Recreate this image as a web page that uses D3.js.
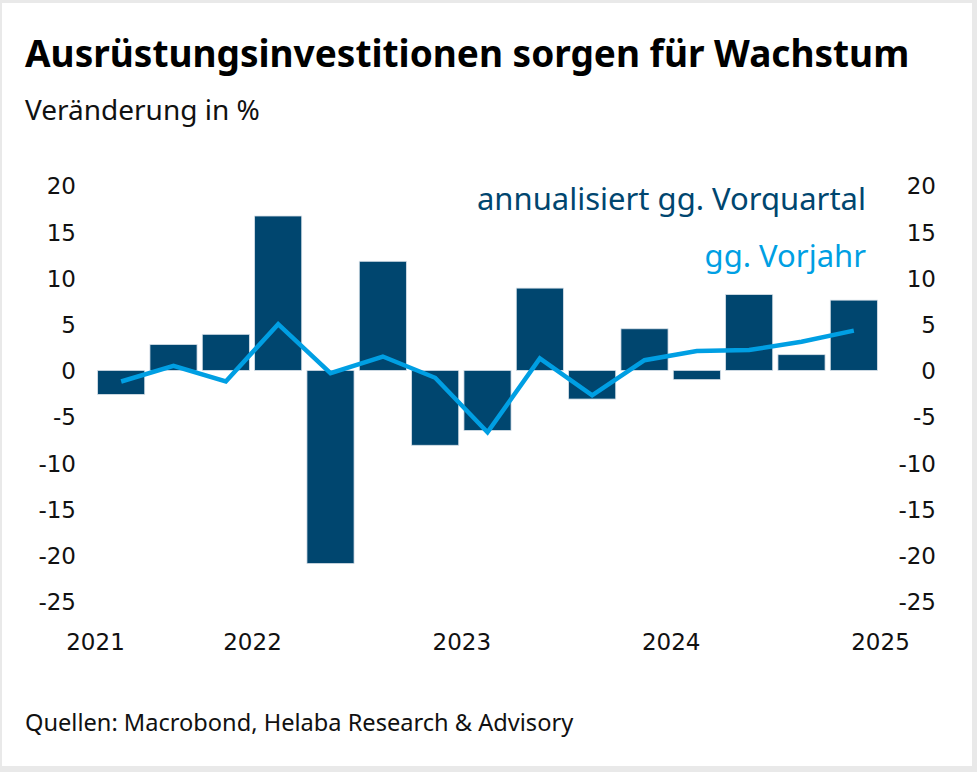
<!DOCTYPE html>
<html>
<head>
<meta charset="utf-8">
<script src="https://cdn.jsdelivr.net/npm/d3@7"></script>
<style>
  html, body { margin: 0; padding: 0; background: #e9e9e9; }
  svg { display: block; }
  text { font-family: "Noto Sans", sans-serif; }
  .tick text { font-family: "DejaVu Sans", sans-serif; font-size: 23px; fill: #111; }
</style>
</head>
<body>
<div id="chart"></div>
<script>
// quarters Q2 2021 .. Q4 2024
const quarters = ["2021Q2","2021Q3","2021Q4","2022Q1","2022Q2","2022Q3","2022Q4",
                  "2023Q1","2023Q2","2023Q3","2023Q4","2024Q1","2024Q2","2024Q3","2024Q4"];
// annualisiert gg. Vorquartal (bars)
const qoqAnn = [-2.6, 2.8, 3.9, 16.7, -20.9, 11.8, -8.1, -6.5, 8.9, -3.1, 4.5, -1.0, 8.2, 1.7, 7.6];
// gg. Vorjahr (line)
const yoy = [-1.2, 0.5, -1.2, 5.0, -0.3, 1.5, -0.8, -6.7, 1.3, -2.7, 1.1, 2.1, 2.2, 3.1, 4.3];
const yTicks = [20, 15, 10, 5, 0, -5, -10, -15, -20, -25];
const yearTicks = [2021, 2022, 2023, 2024, 2025];

const width = 977, height = 772;
const darkBlue = "#00466f", lightBlue = "#009fe3";

const svg = d3.select("#chart").append("svg")
    .attr("width", width)
    .attr("height", height);

// white panel inside light grey frame
svg.append("rect")
    .attr("x", 2).attr("y", 3)
    .attr("width", 970).attr("height", 763)
    .attr("fill", "#fff");

const qDate = q => +q.slice(0, 4) + (+q.slice(5) - 0.5) / 4;

const x = d3.scaleLinear()
    .domain([2021.25, 2025])
    .range([95, 880]);

const y = d3.scaleLinear()
    .domain([-25, 20])
    .range([601.5, 185.5]);

const barW = (x(2022) - x(2021.75)) * 0.9;

// axes (plain hyphen for negatives)
const yAxisL = svg.append("g")
    .attr("transform", "translate(76,0)")
    .call(d3.axisLeft(y).tickValues(yTicks).tickFormat(d => String(d)).tickSize(0).tickPadding(0));
const yAxisR = svg.append("g")
    .attr("transform", "translate(936,0)")
    .call(d3.axisLeft(y).tickValues(yTicks).tickFormat(d => String(d)).tickSize(0).tickPadding(0));
[yAxisL, yAxisR].forEach(g => {
    g.select(".domain").remove();
    g.selectAll("text").attr("dy", "0.36em");
});

const xAxis = svg.append("g")
    .attr("transform", "translate(0,650)")
    .call(d3.axisBottom(x)
        .tickValues(yearTicks.map(d => d === 2021 ? 2021.25 : d))
        .tickFormat(d => Math.floor(d))
        .tickSize(0).tickPadding(0));
xAxis.select(".domain").remove();
xAxis.selectAll("text").attr("dy", "0");

// bars
svg.append("g")
    .selectAll("rect")
    .data(quarters.map((q, i) => ({ q, v: qoqAnn[i] })))
    .enter().append("rect")
    .attr("x", d => x(qDate(d.q)) - barW / 2)
    .attr("width", barW)
    .attr("y", d => y(Math.max(0, d.v)))
    .attr("height", d => Math.abs(y(d.v) - y(0)))
    .attr("fill", darkBlue)
    .attr("stroke", "#d7e0e8")
    .attr("stroke-width", 0.8);

// line
const line = d3.line()
    .x(d => x(qDate(d.q)))
    .y(d => y(d.v));

svg.append("path")
    .datum(quarters.map((q, i) => ({ q, v: yoy[i] })))
    .attr("d", line)
    .attr("fill", "none")
    .attr("stroke", lightBlue)
    .attr("stroke-width", 4.5)
    .attr("stroke-linejoin", "miter");

// legend
svg.append("text")
    .attr("x", 866).attr("y", 210)
    .attr("text-anchor", "end")
    .attr("fill", darkBlue)
    .style("font-size", "31px")
    .text("annualisiert gg. Vorquartal");
svg.append("text")
    .attr("x", 866).attr("y", 267)
    .attr("text-anchor", "end")
    .attr("fill", lightBlue)
    .style("font-size", "31px")
    .text("gg. Vorjahr");

// titles
svg.append("text")
    .attr("x", 25).attr("y", 67)
    .attr("fill", "#000")
    .style("font-size", "37px")
    .style("font-weight", "bold")
    .text("Ausrüstungsinvestitionen sorgen für Wachstum");
svg.append("text")
    .attr("x", 25).attr("y", 120)
    .attr("fill", "#111")
    .style("font-size", "28px")
    .text("Veränderung in %");
svg.append("text")
    .attr("x", 25).attr("y", 731)
    .attr("fill", "#111")
    .style("font-size", "23.6px")
    .text("Quellen: Macrobond, Helaba Research & Advisory");
</script>
</body>
</html>
